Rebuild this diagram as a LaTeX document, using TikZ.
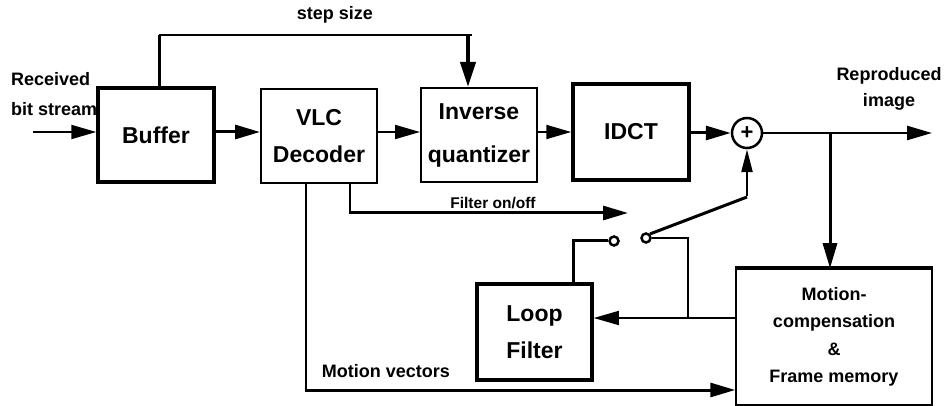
\documentclass[tikz,border=0pt]{standalone}
\usepackage{fontspec}
\setmainfont{Liberation Sans}
\usetikzlibrary{arrows.meta}
\begin{document}
\begin{tikzpicture}[x=1pt,y=-1pt,
  tip/.style={-{Triangle[length=25pt,width=14pt]}},
  blk/.style={draw, rectangle, inner sep=0pt, align=center,
    minimum width=116pt, minimum height=94pt,
    font=\fontsize{23}{37}\selectfont\bfseries},
  thickbox/.style={blk, line width=3.5pt},
  thinbox/.style={blk, line width=2pt},
  contact/.style={circle, draw, line width=2.5pt, minimum size=9pt, inner sep=0pt, fill=white},
  lbl/.style={font=\fontsize{18}{26}\selectfont\bfseries, inner sep=0pt, align=center},
]
\useasboundingbox (0,0) rectangle (948,406);

% blocks
\node[thickbox] (buffer) at (156,135) {Buffer};
\node[thinbox] (vlc) at (319,136.5) {VLC\\Decoder};
\node[thinbox, font=\fontsize{23}{43}\selectfont\bfseries] (inv) at (479,135) {Inverse\\quantizer};
\node[thickbox, minimum height=96pt] (idct) at (631,132) {IDCT};
\node[thickbox, minimum width=115pt, minimum height=96pt] (loop) at (534.5,332) {Loop\\Filter};
\node[draw, line width=1.5pt, inner sep=0pt, align=center, minimum width=196pt, minimum height=136pt,
  font=\fontsize{18}{27.5}\selectfont\bfseries] (mc) at (834,337) {Motion-\\compensation\\\&\\Frame memory};
\draw[line width=4pt] (mc.north west) -- (mc.north east);

\node[circle, draw, line width=2.5pt, minimum size=30pt, inner sep=0pt,
  font=\fontsize{22}{22}\selectfont\bfseries] (add) at (747,133) {+};
\node[contact] (swl) at (614,241) {};
\node[contact] (swr) at (646,238) {};

% labels
\node[lbl] (stepl) at (335,15) {step size};
\node[lbl, anchor=west, align=left, font=\fontsize{18}{30}\selectfont\bfseries] (recv) at (11,94) {Received\\bit stream};
\node[lbl] (repro) at (889,89) {Reproduced\\image};
\node[lbl, font=\fontsize{15.5}{18}\selectfont\bfseries] (fonl) at (493,203) {Filter on/off};
\node[lbl] (mvl) at (386,371) {Motion vectors};

% coordinates
\coordinate (in) at (33,132);
\coordinate (s1) at (159,35);
\coordinate (s2) at (472,35);
\coordinate (s3) at (468,35);
\coordinate (out) at (932,133);
\coordinate (br) at (830,133);
\coordinate (f1) at (350,213);
\coordinate (f2) at (628,213);
\coordinate (m1) at (306,390);
\coordinate (j) at (688,318);
\coordinate (l1) at (573,241);
\coordinate (d1) at (747,197);

% connectors
\draw[line width=2pt, tip] (in) -- (in -| buffer.west);
\draw[line width=3pt, tip] (buffer.east |- in) -- (vlc.west |- in);
\draw[line width=2pt, tip] (vlc.east |- in) -- (inv.west |- in);
\draw[line width=2pt, tip] (inv.east |- idct) -- (idct.west);
\draw[line width=3pt, tip] (idct.east |- add) -- (add.west);
\draw[line width=2.5pt, tip] (add.east) -- (out);
\draw[line width=3pt, tip] (br) -- (br |- mc.north);

\draw[line width=3pt] (buffer.north -| s1) -- (s1);
\draw[line width=2pt] (s1) -- (s2);
\draw[line width=4pt, -{Triangle[length=25pt,width=15pt]}] (s3) -- (s3 |- inv.north);

\draw[line width=2pt] (vlc.south -| f1) -- (f1);
\draw[line width=3pt, tip] ([xshift=-1pt]f1) -- (f2);

\draw[line width=2pt] (vlc.south -| m1) -- (m1);
\draw[line width=3pt, tip] ([xshift=-1pt]m1) -- (m1 -| mc.west);

\draw[line width=1.5pt, tip] (mc.west |- j) -- (loop.east |- j);
\draw[line width=1.5pt] (j) -- (j |- swr) -- (swr.east);

\draw[line width=3pt] (loop.north -| l1) -- (l1) -- (swl.west);

\draw[line width=3pt] (swr.north east) -- (d1);
\draw[line width=2.5pt, -{Triangle[length=23pt,width=11pt]}] ([yshift=1pt]d1) -- (add.south);
\end{tikzpicture}
\end{document}
